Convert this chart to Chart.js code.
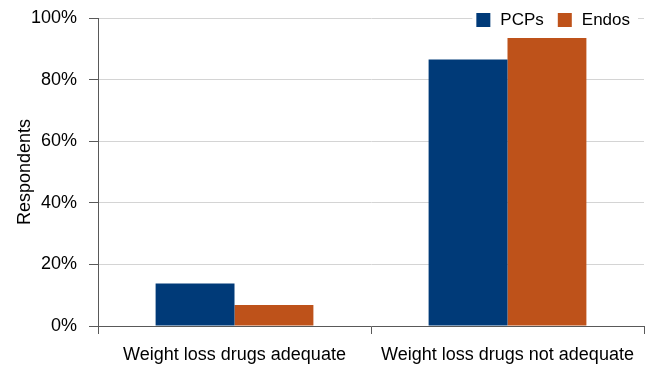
<!DOCTYPE html>
<html>
<head>
<meta charset="utf-8">
<script src="https://cdn.jsdelivr.net/npm/chart.js@4"></script>
<style>
    html, body { margin: 0; padding: 0; background: #fff; }
    #wrap { width: 652px; height: 377px; }
</style>
</head>
<body>
<div id="wrap"><canvas id="respChart" width="652" height="377"></canvas></div>
<script>
const categories = ['Weight loss drugs adequate', 'Weight loss drugs not adequate'];
const seriesNames = ['PCPs', 'Endos'];
const pcpValues = [13.8, 86.5];
const endoValues = [6.8, 93.5];
const yTicks = [0, 20, 40, 60, 80, 100];

const seriesColors = ['#003a78', '#be521a'];
const axisColor = '#595959';
const gridColor = '#d4d4d4';
const fontFamily = '"Liberation Sans", Arial, sans-serif';

// legend sits on the top gridline, right aligned, with a white backing
const topLegend = {
    id: 'topLegend',
    afterDraw(chart) {
        const ctx = chart.ctx;
        const box = 14, boxGap = 10, itemGap = 14;
        const right = 632, cy = 19;
        ctx.save();
        ctx.font = '17px ' + fontFamily;
        const items = chart.data.datasets.map(ds => ({
            label: ds.label, color: ds.backgroundColor, w: ctx.measureText(ds.label).width
        }));
        let total = items.reduce((s, it) => s + box + boxGap + it.w, 0) + itemGap * (items.length - 1);
        let x = right - total - 2;
        ctx.fillStyle = '#fff';
        ctx.fillRect(x - 4, cy - 10, total + 12, 20);
        ctx.textBaseline = 'middle';
        items.forEach(it => {
            ctx.fillStyle = it.color;
            ctx.fillRect(x, cy - 6, box, box);
            x += box + boxGap;
            ctx.fillStyle = '#000';
            ctx.fillText(it.label, x, cy + 1);
            x += it.w + itemGap;
        });
        ctx.restore();
    }
};

new Chart(document.getElementById('respChart').getContext('2d'), {
    type: 'bar',
    data: {
        labels: categories,
        datasets: [
            { label: seriesNames[0], data: pcpValues, backgroundColor: seriesColors[0] },
            { label: seriesNames[1], data: endoValues, backgroundColor: seriesColors[1] }
        ]
    },
    options: {
        responsive: false,
        animation: false,
        events: [],
        layout: { padding: { top: 18, right: 8, left: 0, bottom: 0 } },
        datasets: {
            bar: { categoryPercentage: 0.578, barPercentage: 1.0, borderWidth: 0 }
        },
        plugins: {
            legend: { display: false },
            tooltip: { enabled: false }
        },
        scales: {
            x: {
                offset: true,
                grid: {
                    offset: true,
                    drawOnChartArea: false,
                    tickLength: 8,
                    tickColor: axisColor
                },
                border: { color: axisColor, width: 1 },
                ticks: {
                    color: '#000',
                    padding: 10,
                    maxRotation: 0,
                    font: { family: fontFamily, size: 18 }
                },
                afterFit(scale) { scale.height = 51; }
            },
            y: {
                min: 0,
                max: 100,
                afterBuildTicks(scale) {
                    scale.ticks = yTicks.map(v => ({ value: v }));
                },
                grid: {
                    color: gridColor,
                    tickColor: axisColor,
                    tickLength: 9
                },
                border: { color: axisColor, width: 1 },
                ticks: {
                    color: '#000',
                    padding: 12,
                    font: { family: fontFamily, size: 18 },
                    callback: v => v + '%'
                },
                title: {
                    display: true,
                    text: 'Respondents',
                    color: '#000',
                    padding: { top: 14, bottom: 0 },
                    font: { family: fontFamily, size: 18 }
                },
                afterFit(scale) {
                    scale.width = 98;
                    scale.paddingTop = 0;
                    scale.paddingBottom = 0;
                }
            }
        }
    },
    plugins: [topLegend]
});
</script>
</body>
</html>
